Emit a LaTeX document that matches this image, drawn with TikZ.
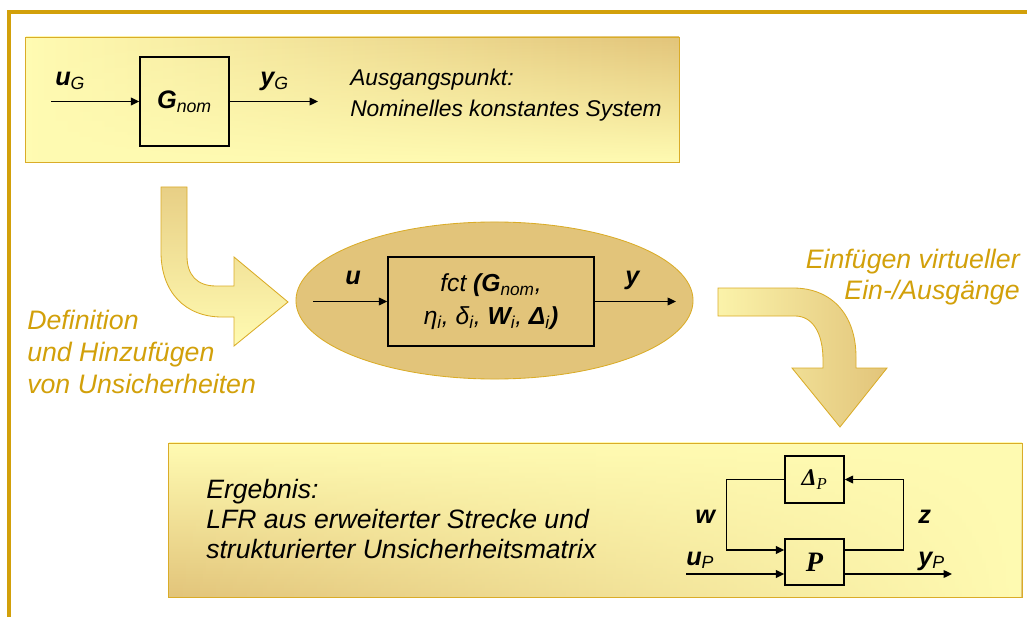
\documentclass[tikz,border=0pt]{standalone}
\usepackage{fontspec}
\setmainfont{Liberation Sans}
\newfontfamily\timesfont{Liberation Serif}
\usepackage{tikz}
\usetikzlibrary{shapes.geometric, arrows.meta, positioning, fadings}
\definecolor{framegold}{RGB}{210, 160, 10}
\definecolor{panelgold}{RGB}{218, 172, 40}
\definecolor{lightyel}{RGB}{255, 251, 178}
\definecolor{tanbrown}{RGB}{226, 196, 122}
\newcommand{\vsub}[2]{\textbf{#1}\textsubscript{\mdseries #2}}
\tikzset{
  panel/.style={rectangle, draw=panelgold, line width=0.6pt, inner sep=0pt},
  glow/.style={path picture={\fill[lightyel, path fading=#1]
      (path picture bounding box.south west) rectangle (path picture bounding box.north east);}},
  block/.style={rectangle, draw=black, line width=1pt, inner sep=0pt},
  sig/.style={-{Triangle[length=6pt, width=5.5pt]}, line width=1pt},
  lbl/.style={inner sep=0pt, font=\fontsize{18}{20}\selectfont\itshape},
  note/.style={inner sep=0pt, align=left, font=\fontsize{16.2}{22.7}\selectfont\itshape},
  goldnote/.style={inner sep=0pt, text=framegold, font=\fontsize{19}{22.5}\selectfont\itshape},
  bendarrow/.style={draw=panelgold, line width=0.6pt},
}

\begin{document}
\begin{tikzpicture}[x=0.025cm, y=-0.025cm]
  \useasboundingbox (0,0) rectangle (1027,617);

  % Frame
  \draw[framegold, line width=2.2pt] (9,617) -- (9,12) -- (1027,12);

  % Panels
  \node[panel, minimum width=16.325cm, minimum height=3.125cm,
        left color=lightyel, right color=tanbrown, glow=north] (top) at (352.5,99.5) {};
  \node[panel, minimum width=21.325cm, minimum height=3.85cm,
        top color=lightyel, bottom color=tanbrown, glow=west] (bot) at (595.5,520) {};

  % Bent arrows
  \path[bendarrow, top color=tanbrown!80!lightyel, bottom color=lightyel]
    (161,187) -- (187,187) -- (187,256) .. controls (187,275) and (197,286) .. (216,286)
    -- (234,286) -- (234,257) -- (288,302) -- (234,346) -- (234,317) -- (222,317)
    .. controls (185,317) and (161,292) .. (161,252) -- cycle;
  \path[bendarrow, left color=lightyel!85!tanbrown, right color=tanbrown]
    (718,288) -- (793,288) .. controls (832,288) and (856,315) .. (856,357)
    -- (856,368) -- (887,368) -- (840,427) -- (792,368) -- (823,368) -- (823,360)
    .. controls (823,332) and (812,316) .. (795,316) -- (718,316) -- cycle;

  % Ellipse
  \node[ellipse, draw=panelgold, line width=0.6pt, inner sep=0pt,
        minimum width=9.925cm, minimum height=3.925cm,
        left color=tanbrown, middle color=lightyel, right color=tanbrown] (ell) at (494.5,300.5) {};

  % Blocks
  \node[block, minimum width=2.225cm, minimum height=2.225cm,
        font=\fontsize{18}{20}\selectfont\itshape] (gnom) at (184.5,101.5) {\vsub{G}{nom}};
  \node[block, minimum width=5.15cm, minimum height=2.225cm, align=center,
        font=\fontsize{17.5}{23.4}\selectfont\itshape] (fct) at (491,301.5)
        {fct \textbf{(}\vsub{G}{nom},\\η\textsubscript{i}, δ\textsubscript{i}, \vsub{W}{i}, \vsub{Δ}{i}\textbf{)}};
  \node[block, minimum width=1.475cm, minimum height=1.175cm,
        font=\fontsize{17}{18}\timesfont\selectfont\itshape] (delta) at (814.5,479.5) {\textbf{Δ}\textsubscript{P}};
  \node[block, minimum width=1.475cm, minimum height=1.15cm,
        font=\fontsize{20}{20}\timesfont\selectfont\bfseries\itshape] (P) at (814.5,562) {P};

  % Free ends
  \coordinate (uGin)  at (51,101.5);
  \coordinate (yGout) at (318,101.5);
  \coordinate (uin)   at (313,301.5);
  \coordinate (yout)  at (676,301.5);
  \coordinate (uPin)  at (686,574);
  \coordinate (yPout) at (952,574);

  % Arrows
  \draw[sig] (uGin) -- (gnom);
  \draw[sig] (gnom) -- (yGout);
  \draw[sig] (uin) -- (fct);
  \draw[sig] (fct) -- (yout);
  \draw[sig] (delta.west) -- ++(-58,0) |- ([yshift=0.3cm]P.west);
  \draw[sig] ([yshift=0.3cm]P.east) -- ++(59,0) |- (delta.east);
  \draw[sig] (uPin) -- (uPin -| P.west);
  \draw[sig] (uPin -| P.east) -- (yPout);

  % Signal labels
  \node[lbl, anchor=base west] at (55,86)   {\vsub{u}{G}};
  \node[lbl, anchor=base west] at (260,86)  {\vsub{y}{G}};
  \node[lbl, anchor=base west] at (345,285) {\textbf{u}};
  \node[lbl, anchor=base west] at (625,285) {\textbf{y}};
  \node[lbl, anchor=base west] at (695,523) {\textbf{w}};
  \node[lbl, anchor=base west] at (918,523) {\textbf{z}};
  \node[lbl, anchor=base west] at (686,565) {\vsub{u}{P}};
  \node[lbl, anchor=base west] at (918,565) {\vsub{y}{P}};

  % Texts (anchored at the last line)
  \node[note, anchor=base west] at (350,117) {Ausgangspunkt:\\Nominelles konstantes System};
  \node[goldnote, align=left, anchor=base west] at (27,393) {Definition\\und Hinzufügen\\von Unsicherheiten};
  \node[goldnote, align=right, anchor=base east] at (1020,300) {Einfügen virtueller\\Ein-/Ausgänge};
  \node[note, anchor=base west, font=\fontsize{18.9}{21.3}\selectfont\itshape] at (206,558)
        {Ergebnis:\\LFR aus erweiterter Strecke und\\strukturierter Unsicherheitsmatrix};

\end{tikzpicture}
\end{document}
